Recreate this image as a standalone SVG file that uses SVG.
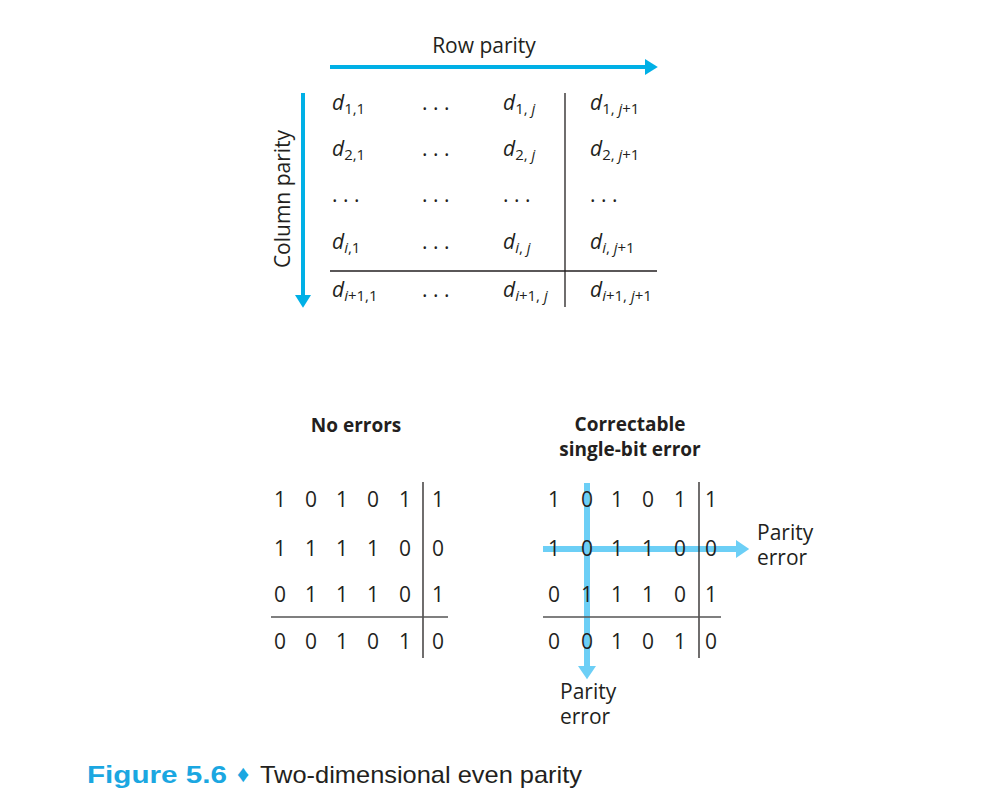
<svg xmlns="http://www.w3.org/2000/svg" width="989" height="807" viewBox="0 0 989 807">
<style>
text{font-family:"Open Sans","Noto Sans","Liberation Sans",sans-serif;fill:#231f20}
.lbl{font-size:21px}
.d{font-size:21px;font-style:italic}
.sub{font-size:15px}
.up{font-style:normal}
.dig{font-size:21px;text-anchor:middle}
.hd{font-size:19px;font-weight:bold;text-anchor:middle}
.rule{stroke:#231f20;stroke-width:1.3;fill:none}
.rule2{stroke:#555;stroke-width:1.6;fill:none}
.cap{font-family:"Liberation Sans",sans-serif;font-size:24px}
</style>
<defs>
<marker id="ah" markerWidth="4" markerHeight="4" refX="0" refY="2" orient="auto" markerUnits="strokeWidth">
<path d="M0,0 L3.2,2 L0,4 z" fill="#00b0e6"/>
</marker>
<marker id="ah2" markerWidth="3" markerHeight="3" refX="0" refY="1.5" orient="auto" markerUnits="strokeWidth">
<path d="M0,0 L2.2,1.5 L0,3 z" fill="#6ccff6"/>
</marker>
</defs>

<g id="connectors">
<line x1="330" y1="67" x2="645" y2="67" stroke="#00b0e6" stroke-width="4" marker-end="url(#ah)"/>
<line x1="303" y1="93" x2="303" y2="295" stroke="#00b0e6" stroke-width="4" marker-end="url(#ah)"/>
<line x1="543" y1="549" x2="736" y2="549" stroke="#6ccff6" stroke-width="6" marker-end="url(#ah2)"/>
<line x1="587" y1="483" x2="587" y2="666" stroke="#6ccff6" stroke-width="6" marker-end="url(#ah2)"/>
</g>

<g id="row-parity-label"><text class="lbl" x="484" y="53" text-anchor="middle">Row parity</text></g>
<g id="column-parity-label"><text class="lbl" transform="translate(290,199) rotate(-90)" text-anchor="middle">Column parity</text></g>

<g id="general-matrix">
<line class="rule" x1="565" y1="93" x2="565" y2="307"/>
<line class="rule" x1="330" y1="271" x2="657" y2="271"/>
<text class="d" x="332" y="110">d<tspan class="sub up" dy="4">1,1</tspan></text>
<text class="lbl" x="422" y="110">. . .</text>
<text class="d" x="503" y="110">d<tspan class="sub up" dy="4">1,</tspan><tspan class="sub"> j</tspan></text>
<text class="d" x="590" y="110">d<tspan class="sub up" dy="4">1,</tspan><tspan class="sub"> j</tspan><tspan class="sub up">+1</tspan></text>

<text class="d" x="332" y="156">d<tspan class="sub up" dy="4">2,1</tspan></text>
<text class="lbl" x="422" y="156">. . .</text>
<text class="d" x="503" y="156">d<tspan class="sub up" dy="4">2,</tspan><tspan class="sub"> j</tspan></text>
<text class="d" x="590" y="156">d<tspan class="sub up" dy="4">2,</tspan><tspan class="sub"> j</tspan><tspan class="sub up">+1</tspan></text>

<text class="lbl" x="332" y="202">. . .</text>
<text class="lbl" x="422" y="202">. . .</text>
<text class="lbl" x="503" y="202">. . .</text>
<text class="lbl" x="590" y="202">. . .</text>

<text class="d" x="332" y="249">d<tspan class="sub" dy="4">i</tspan><tspan class="sub up">,1</tspan></text>
<text class="lbl" x="422" y="249">. . .</text>
<text class="d" x="503" y="249">d<tspan class="sub" dy="4">i</tspan><tspan class="sub up">, </tspan><tspan class="sub">j</tspan></text>
<text class="d" x="590" y="249">d<tspan class="sub" dy="4">i</tspan><tspan class="sub up">, </tspan><tspan class="sub">j</tspan><tspan class="sub up">+1</tspan></text>

<text class="d" x="332" y="297">d<tspan class="sub" dy="4">i</tspan><tspan class="sub up">+1,1</tspan></text>
<text class="lbl" x="422" y="297">. . .</text>
<text class="d" x="503" y="297">d<tspan class="sub" dy="4">i</tspan><tspan class="sub up">+1, </tspan><tspan class="sub">j</tspan></text>
<text class="d" x="590" y="297">d<tspan class="sub" dy="4">i</tspan><tspan class="sub up">+1, </tspan><tspan class="sub">j</tspan><tspan class="sub up">+1</tspan></text>
</g>

<g id="no-errors">
<text class="hd" x="356" y="432">No errors</text>
<line class="rule" x1="423" y1="482" x2="423" y2="658"/>
<line class="rule2" x1="271" y1="617" x2="448" y2="617"/>
<text class="dig" x="280" y="507">1</text><text class="dig" x="311" y="507">0</text><text class="dig" x="342" y="507">1</text><text class="dig" x="373" y="507">0</text><text class="dig" x="405" y="507">1</text><text class="dig" x="438" y="507">1</text>
<text class="dig" x="280" y="556">1</text><text class="dig" x="311" y="556">1</text><text class="dig" x="342" y="556">1</text><text class="dig" x="373" y="556">1</text><text class="dig" x="405" y="556">0</text><text class="dig" x="438" y="556">0</text>
<text class="dig" x="280" y="602">0</text><text class="dig" x="311" y="602">1</text><text class="dig" x="342" y="602">1</text><text class="dig" x="373" y="602">1</text><text class="dig" x="405" y="602">0</text><text class="dig" x="438" y="602">1</text>
<text class="dig" x="280" y="649">0</text><text class="dig" x="311" y="649">0</text><text class="dig" x="342" y="649">1</text><text class="dig" x="373" y="649">0</text><text class="dig" x="405" y="649">1</text><text class="dig" x="438" y="649">0</text>
</g>

<g id="correctable-error">
<text class="hd" x="630" y="431">Correctable</text>
<text class="hd" x="630" y="456">single-bit error</text>
<line class="rule" x1="699" y1="482" x2="699" y2="658"/>
<line class="rule2" x1="543" y1="617" x2="721" y2="617"/>
<text class="dig" x="554" y="507">1</text><text class="dig" x="587" y="507">0</text><text class="dig" x="617" y="507">1</text><text class="dig" x="648" y="507">0</text><text class="dig" x="680" y="507">1</text><text class="dig" x="711" y="507">1</text>
<text class="dig" x="554" y="556">1</text><text class="dig" x="587" y="556">0</text><text class="dig" x="617" y="556">1</text><text class="dig" x="648" y="556">1</text><text class="dig" x="680" y="556">0</text><text class="dig" x="711" y="556">0</text>
<text class="dig" x="554" y="602">0</text><text class="dig" x="587" y="602">1</text><text class="dig" x="617" y="602">1</text><text class="dig" x="648" y="602">1</text><text class="dig" x="680" y="602">0</text><text class="dig" x="711" y="602">1</text>
<text class="dig" x="554" y="649">0</text><text class="dig" x="587" y="649">0</text><text class="dig" x="617" y="649">1</text><text class="dig" x="648" y="649">0</text><text class="dig" x="680" y="649">1</text><text class="dig" x="711" y="649">0</text>
<text class="lbl" x="757" y="540">Parity</text>
<text class="lbl" x="757" y="565">error</text>
<text class="lbl" x="560" y="699">Parity</text>
<text class="lbl" x="560" y="724">error</text>
</g>

<g id="caption">
<text class="cap" x="87" y="783" font-weight="bold" style="fill:#1ba7e1" textLength="140" lengthAdjust="spacingAndGlyphs">Figure 5.6</text>
<text class="cap" x="237" y="782" style="fill:#1ba7e1" font-size="18">♦</text>
<text class="cap" x="260" y="783" textLength="322" lengthAdjust="spacingAndGlyphs">Two-dimensional even parity</text>
</g>
</svg>
